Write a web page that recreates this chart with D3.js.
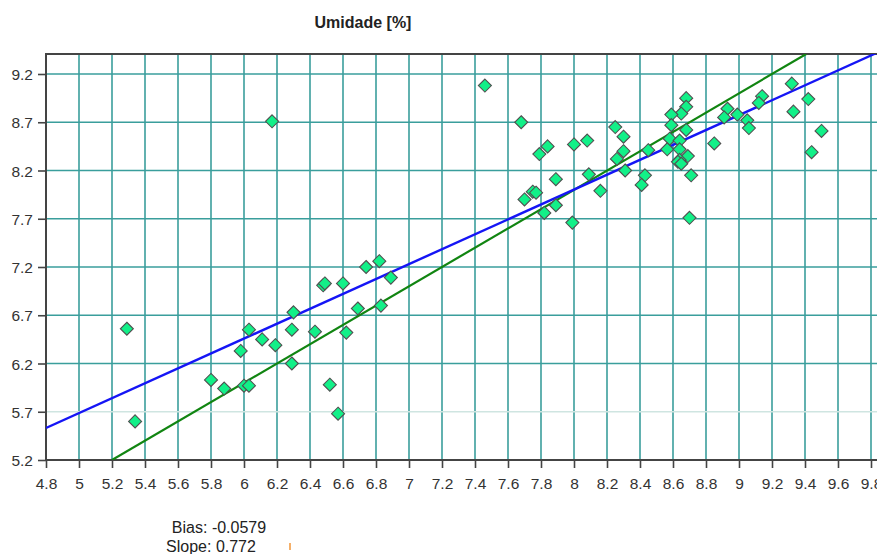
<!DOCTYPE html>
<html>
<head>
<meta charset="utf-8">
<script src="https://cdn.jsdelivr.net/npm/d3@7"></script>
<style>
  body { margin: 0; background: #fff; }
  svg { display: block; font-family: Arial, "Liberation Sans", sans-serif; }
</style>
</head>
<body>
<script>
var obsX = [5.29, 5.34, 5.80, 5.88, 5.98, 6.00, 6.03, 6.03, 6.11, 6.19,
            6.29, 6.30, 6.29, 6.43, 6.48, 6.49, 6.60, 6.52, 6.57, 6.62,
            6.69, 6.74, 6.82, 6.89, 6.83, 6.17, 7.46,
            7.68, 7.79, 7.84, 8.00, 8.08, 7.89, 8.09, 8.16, 7.70, 7.75,
            7.77, 7.89, 7.82, 7.99, 8.25, 8.30, 8.30, 8.26, 8.31, 8.43,
            8.41, 8.45, 8.68, 8.68, 8.65, 8.59, 8.59, 8.68, 8.58, 8.565,
            8.64, 8.64, 8.69, 8.64, 8.63, 8.65, 8.71, 8.70, 8.85, 8.93,
            8.91, 8.99, 9.05, 9.06, 9.14, 9.12, 9.32, 9.42, 9.33, 9.50, 9.44];
var obsY = [6.56, 5.60, 6.03, 5.94, 6.33, 5.97, 5.97, 6.55, 6.45, 6.39,
            6.55, 6.73, 6.20, 6.53, 7.01, 7.03, 7.03, 5.98, 5.68, 6.52,
            6.77, 7.20, 7.26, 7.09, 6.80, 8.71, 9.08,
            8.70, 8.37, 8.45, 8.47, 8.51, 8.11, 8.16, 7.99, 7.90, 7.98,
            7.97, 7.84, 7.76, 7.66, 8.65, 8.55, 8.40, 8.32, 8.20, 8.15,
            8.05, 8.41, 8.95, 8.86, 8.79, 8.78, 8.67, 8.62, 8.53, 8.42,
            8.51, 8.42, 8.35, 8.31, 8.29, 8.27, 8.15, 7.71, 8.48, 8.84,
            8.75, 8.78, 8.72, 8.64, 8.97, 8.90, 9.10, 8.94, 8.81, 8.61, 8.39];

var xTicks = d3.range(48, 99, 2).map(function(d) { return d / 10; });
var yTicks = [5.2, 5.7, 6.2, 6.7, 7.2, 7.7, 8.2, 8.7, 9.2];

var fitSlope = 0.772, fitIntercept = 1.826;
var statLines = ["Bias: -0.0579", "Slope: 0.772"];
var title = "Umidade [%]";

var width = 877, height = 554;
var plotLeft = 46, plotTop = 54, plotBottom = 460;

var x = d3.scaleLinear().domain([4.8, 9.8]).range([plotLeft, 871]);
var y = d3.scaleLinear().domain([5.2, 9.2]).range([plotBottom, 74]);
var xMax = x.invert(width), yMax = y.invert(plotTop);

var svg = d3.select("body").append("svg")
  .attr("width", width)
  .attr("height", height);

svg.append("defs").append("clipPath").attr("id", "plot")
  .append("rect")
  .attr("x", plotLeft).attr("y", plotTop)
  .attr("width", width - plotLeft).attr("height", plotBottom - plotTop);

// grid
svg.append("g").selectAll("line")
  .data(xTicks.filter(function(d) { return d > 4.8; }))
  .enter().append("line")
  .attr("x1", function(d) { return x(d); })
  .attr("x2", function(d) { return x(d); })
  .attr("y1", plotTop).attr("y2", plotBottom)
  .attr("stroke", "#3a9e9c")
  .attr("stroke-width", 1.6);

svg.append("g").selectAll("line")
  .data(yTicks.filter(function(d) { return d > 5.2; }))
  .enter().append("line")
  .attr("x1", plotLeft).attr("x2", width)
  .attr("y1", function(d) { return y(d); })
  .attr("y2", function(d) { return y(d); })
  .attr("stroke", function(d) { return d === 5.7 ? "#cfe5e1" : "#3a9e9c"; })
  .attr("stroke-width", 1.6);

// axes
var xAxis = d3.axisBottom(x).tickValues(xTicks).tickSize(8)
  .tickFormat(function(d) { return d3.format("")(d); });
var yAxis = d3.axisLeft(y).tickValues(yTicks).tickSize(8);

var gx = svg.append("g").attr("transform", "translate(0," + plotBottom + ")").call(xAxis);
var gy = svg.append("g").attr("transform", "translate(" + plotLeft + ",0)").call(yAxis);
[gx, gy].forEach(function(g) {
  g.select(".domain").remove();
  g.selectAll(".tick line").attr("stroke", "#444").attr("stroke-width", 1.6);
  g.selectAll("text").attr("fill", "#333").style("font-size", "15.5px");
});
gx.selectAll("text").attr("dy", null).attr("y", 29);
gy.selectAll("text").attr("x", -13).attr("dy", "0.36em");

svg.append("line").attr("x1", plotLeft).attr("x2", width)
  .attr("y1", plotBottom).attr("y2", plotBottom).attr("stroke", "#444").attr("stroke-width", 2);
svg.append("line").attr("x1", plotLeft).attr("x2", width)
  .attr("y1", plotTop).attr("y2", plotTop).attr("stroke", "#444").attr("stroke-width", 2);
svg.append("line").attr("x1", plotLeft).attr("x2", plotLeft)
  .attr("y1", plotTop - 1).attr("y2", plotBottom + 1).attr("stroke", "#444").attr("stroke-width", 2);

var plot = svg.append("g").attr("clip-path", "url(#plot)");

// 1:1 line
plot.append("line")
  .attr("x1", x(5.2)).attr("y1", y(5.2))
  .attr("x2", x(yMax)).attr("y2", y(yMax))
  .attr("stroke", "#118511").attr("stroke-width", 2.2);

// regression line
plot.append("line")
  .attr("x1", x(4.8)).attr("y1", y(fitSlope * 4.8 + fitIntercept))
  .attr("x2", x(xMax)).attr("y2", y(fitSlope * xMax + fitIntercept))
  .attr("stroke", "#1515f5").attr("stroke-width", 2.4);

// points
var pts = d3.range(obsX.length).map(function(i) { return [obsX[i], obsY[i]]; });
plot.selectAll("path")
  .data(pts)
  .enter().append("path")
  .attr("d", "M0,-6.5L6.5,0L0,6.5L-6.5,0Z")
  .attr("transform", function(d) { return "translate(" + x(d[0]) + "," + y(d[1]) + ")"; })
  .attr("fill", "#12f088")
  .attr("stroke", "#505050")
  .attr("stroke-width", 1.1);

// title and stats
svg.append("text")
  .attr("x", 363).attr("y", 28)
  .attr("text-anchor", "middle")
  .attr("fill", "#222")
  .style("font-size", "16px").style("font-weight", "bold")
  .text(title);

svg.selectAll("text.stat")
  .data(statLines)
  .enter().append("text")
  .attr("class", "stat")
  .attr("x", function(d, i) { return i === 0 ? 219 : 211; })
  .attr("y", function(d, i) { return 533 + i * 19; })
  .attr("text-anchor", "middle")
  .attr("fill", "#222")
  .style("font-size", "16px")
  .text(function(d) { return d; });

svg.append("rect")
  .attr("x", 289).attr("y", 543).attr("width", 2).attr("height", 7)
  .attr("fill", "#f5b06a");
</script>
</body>
</html>
